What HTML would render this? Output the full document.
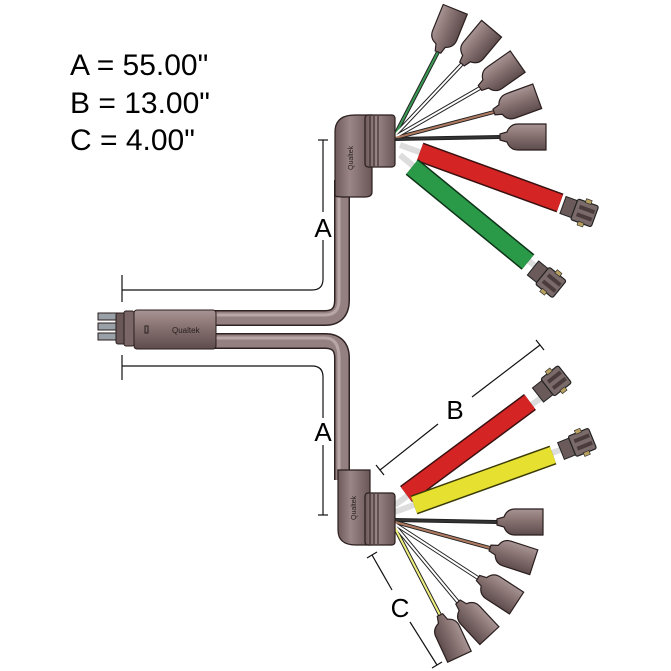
<!DOCTYPE html>
<html><head><meta charset="utf-8"><style>
html,body{margin:0;padding:0;background:#fff}
svg{display:block}
text{font-family:"Liberation Sans",Arial,sans-serif}
</style></head><body>
<svg width="671" height="671" viewBox="0 0 671 671" xmlns="http://www.w3.org/2000/svg">
<defs>
<linearGradient id="g" x1="0" y1="0" x2="0" y2="1">
<stop offset="0" stop-color="#a89494"/><stop offset="0.35" stop-color="#8e7878"/><stop offset="1" stop-color="#5e4c4c"/>
</linearGradient>
<linearGradient id="gv" x1="0" y1="0" x2="1" y2="0">
<stop offset="0" stop-color="#6e5a5a"/><stop offset="0.4" stop-color="#9a8686"/><stop offset="1" stop-color="#6a5656"/>
</linearGradient>
<g id="cup">
<path d="M0,-3 L7,-5 Q10,-13 18,-13 L46,-13 L46,13 L18,13 Q10,13 7,5 L0,3 Z" fill="url(#g)" stroke="#2a1e1e" stroke-width="1.2"/>
</g>
<g id="conn">
<rect x="0" y="-9" width="14" height="18" fill="#6a5a5a" stroke="#222" stroke-width="1"/>
<rect x="12" y="-11" width="22" height="22" rx="2" fill="#7a6a6a" stroke="#222" stroke-width="1.2"/>
<rect x="16" y="-6" width="16" height="4" fill="#4a3c3c"/>
<rect x="16" y="2" width="16" height="4" fill="#4a3c3c"/>
<rect x="20" y="-14" width="6" height="4" fill="#b8a060" stroke="#222" stroke-width=".6"/>
<rect x="20" y="10" width="6" height="4" fill="#b8a060" stroke="#222" stroke-width=".6"/>
</g>
</defs>

<!-- labels -->
<text x="70" y="75" font-size="30">A = 55.00"</text>
<text x="70" y="113" font-size="30">B = 13.00"</text>
<text x="70" y="150" font-size="30">C = 4.00"</text>

<!-- dimension lines -->
<g fill="none" stroke="#111" stroke-width="1.2">
<path d="M122,290 L312,290 Q323,290 323,279 L323,240"/>
<path d="M323,212 L323,140"/>
<path d="M318,140 L328,140"/>
<path d="M122,275 L122,302"/>
<path d="M122,366 L312,366 Q323,366 323,377 L323,418"/>
<path d="M323,445 L323,515"/>
<path d="M318,515 L328,515"/>
<path d="M122,355 L122,380"/>
<path d="M380,470 L438,424"/><path d="M472,397 L540,345"/>
<path d="M376,465 L384,475"/><path d="M536,340 L544,350"/>
<path d="M372,555 L392,590"/><path d="M410,622 L437,665"/>
<path d="M367,558 L377,552"/><path d="M432,668 L442,662"/>
</g>
<text x="323" y="237" font-size="26" text-anchor="middle">A</text>
<text x="323" y="441" font-size="26" text-anchor="middle">A</text>
<text x="455" y="419" font-size="26" text-anchor="middle">B</text>
<text x="400" y="617" font-size="26" text-anchor="middle">C</text>

<!-- cables -->
<g fill="none" stroke-linecap="butt">
<path d="M210,318 L325,318 Q342,318 342,300 L342,180" stroke="#2e2222" stroke-width="16"/>
<path d="M210,318 L325,318 Q342,318 342,300 L342,180" stroke="#948080" stroke-width="13"/>
<path d="M210,315 L325,315 Q339,315 339,300 L339,180" stroke="#b8a6a6" stroke-width="3"/>
<path d="M210,341 L325,341 Q342,341 342,358 L342,480" stroke="#2e2222" stroke-width="16"/>
<path d="M210,341 L325,341 Q342,341 342,358 L342,480" stroke="#948080" stroke-width="13"/>
<path d="M210,338 L325,338 Q339,338 339,358 L339,480" stroke="#b8a6a6" stroke-width="3"/>
</g>

<!-- main connector -->
<g stroke="#2a1e1e" stroke-width="1">
<rect x="98" y="313" width="20" height="7" fill="#9aa0a8"/>
<rect x="98" y="323" width="20" height="7" fill="#9aa0a8"/>
<rect x="98" y="333" width="20" height="7" fill="#9aa0a8"/>
<rect x="116" y="313" width="10" height="31" rx="2" fill="#6a5858"/>
<rect x="124" y="311" width="10" height="35" rx="2" fill="#7a6666"/>
<rect x="134" y="310" width="82" height="39" rx="3" fill="url(#g)"/>
</g>
<text x="172" y="333" font-size="8" fill="#2a2020">Qualtek</text>
<rect x="145" y="326" width="3" height="7" fill="none" stroke="#2a2020" stroke-width="1"/>

<!-- upper fan wires -->
<g stroke-linecap="round">
<g stroke="#222" stroke-width="4">
<line x1="395" y1="135" x2="438" y2="52"/><line x1="395" y1="135" x2="462" y2="64"/>
<line x1="395" y1="137" x2="480" y2="88"/><line x1="395" y1="138" x2="494" y2="112"/>
<line x1="395" y1="139" x2="500" y2="137"/>
</g>
<line x1="395" y1="135" x2="438" y2="52" stroke="#3a9a55" stroke-width="2"/>
<line x1="395" y1="135" x2="462" y2="64" stroke="#fff" stroke-width="2"/>
<line x1="395" y1="137" x2="480" y2="88" stroke="#fff" stroke-width="2"/>
<line x1="395" y1="138" x2="494" y2="112" stroke="#b07a60" stroke-width="2"/>
<line x1="395" y1="139" x2="500" y2="137" stroke="#333" stroke-width="2"/>
</g>
<use href="#cup" transform="translate(438,52) rotate(-68)"/>
<use href="#cup" transform="translate(462,64) rotate(-50)"/>
<use href="#cup" transform="translate(480,88) rotate(-35)"/>
<use href="#cup" transform="translate(494,112) rotate(-20)"/>
<use href="#cup" transform="translate(500,137) rotate(0)"/>
<!-- upper sleeves -->
<g stroke-linecap="butt">
<line x1="400" y1="145" x2="560" y2="203" stroke="#ddd" stroke-width="6"/>
<line x1="420" y1="152" x2="560" y2="203" stroke="#3a1010" stroke-width="20"/>
<line x1="420" y1="152" x2="560" y2="203" stroke="#d42424" stroke-width="17"/>
<line x1="400" y1="155" x2="535" y2="266" stroke="#ddd" stroke-width="6"/>
<line x1="412" y1="167" x2="528" y2="262" stroke="#0e3318" stroke-width="20"/>
<line x1="412" y1="167" x2="528" y2="262" stroke="#2a9a48" stroke-width="17"/>
</g>
<use href="#conn" transform="translate(563,205) rotate(20)"/>
<use href="#conn" transform="translate(533,268) rotate(39)"/>
<!-- upper elbow -->
<path d="M335,195 L335,132 Q335,115 355,115 L372,115 L372,192 Q372,197 365,197 L342,197 Q335,197 335,195 Z" fill="url(#gv)" stroke="#2a1e1e" stroke-width="1.2"/>
<rect x="365" y="115" width="30" height="52" rx="3" fill="url(#gv)" stroke="#2a1e1e" stroke-width="1.2"/>
<g stroke="#2a1e1e" stroke-width="1"><line x1="370" y1="116" x2="370" y2="166"/><line x1="374" y1="116" x2="374" y2="166"/><line x1="378" y1="116" x2="378" y2="166"/></g>
<text x="0" y="0" font-size="7" fill="#2a2020" transform="translate(353,170) rotate(-90)">Qualtek</text>

<!-- lower fan wires -->
<g stroke-linecap="round">
<g stroke="#222" stroke-width="4">
<line x1="395" y1="520" x2="497" y2="522"/><line x1="395" y1="522" x2="490" y2="548"/>
<line x1="395" y1="524" x2="478" y2="578"/><line x1="395" y1="526" x2="458" y2="602"/>
<line x1="395" y1="528" x2="440" y2="615"/>
</g>
<line x1="395" y1="520" x2="497" y2="522" stroke="#333" stroke-width="2"/>
<line x1="395" y1="522" x2="490" y2="548" stroke="#b07a60" stroke-width="2"/>
<line x1="395" y1="524" x2="478" y2="578" stroke="#fff" stroke-width="2"/>
<line x1="395" y1="526" x2="458" y2="602" stroke="#fff" stroke-width="2"/>
<line x1="395" y1="528" x2="440" y2="615" stroke="#f0f080" stroke-width="2"/>
</g>
<use href="#cup" transform="translate(497,522) rotate(0)"/>
<use href="#cup" transform="translate(490,548) rotate(18)"/>
<use href="#cup" transform="translate(478,578) rotate(33)"/>
<use href="#cup" transform="translate(458,602) rotate(47)"/>
<use href="#cup" transform="translate(440,615) rotate(65)"/>
<!-- lower sleeves -->
<g stroke-linecap="butt">
<line x1="395" y1="505" x2="545" y2="395" stroke="#ddd" stroke-width="6"/>
<line x1="406" y1="494" x2="530" y2="402" stroke="#3a1010" stroke-width="20"/>
<line x1="406" y1="494" x2="530" y2="402" stroke="#d42424" stroke-width="17"/>
<line x1="395" y1="512" x2="560" y2="450" stroke="#ddd" stroke-width="6"/>
<line x1="414" y1="505" x2="553" y2="455" stroke="#3a3a08" stroke-width="20"/>
<line x1="414" y1="505" x2="553" y2="455" stroke="#e6e030" stroke-width="17"/>
</g>
<use href="#conn" transform="translate(538,395) rotate(-38)"/>
<use href="#conn" transform="translate(561,451) rotate(-22)"/>
<!-- lower elbow -->
<path d="M338,470 L370,470 L370,545 L356,545 Q338,545 338,530 Z" fill="url(#gv)" stroke="#2a1e1e" stroke-width="1.2"/>
<rect x="365" y="493" width="30" height="52" rx="3" fill="url(#gv)" stroke="#2a1e1e" stroke-width="1.2"/>
<g stroke="#2a1e1e" stroke-width="1"><line x1="370" y1="494" x2="370" y2="544"/><line x1="374" y1="494" x2="374" y2="544"/><line x1="378" y1="494" x2="378" y2="544"/></g>
<text x="0" y="0" font-size="7" fill="#2a2020" transform="translate(356,520) rotate(-90)">Qualtek</text>
</svg>
</body></html>
